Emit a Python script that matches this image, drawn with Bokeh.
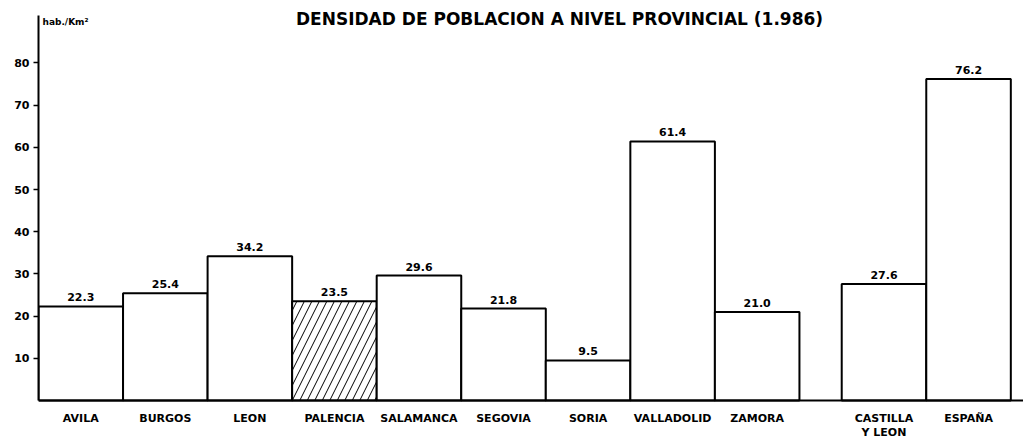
from bokeh.plotting import figure
from bokeh.models import ColumnDataSource, Range1d, FixedTicker, Label, Span
from bokeh.core.properties import value
from bokeh.embed import file_html
from bokeh.resources import INLINE

provincias = ["AVILA", "BURGOS", "LEON", "PALENCIA", "SALAMANCA", "SEGOVIA",
              "SORIA", "VALLADOLID", "ZAMORA"]
densidad_prov = [22.3, 25.4, 34.2, 23.5, 29.6, 21.8, 9.5, 61.4, 21.0]
agregados = ["CASTILLA\nY LEON", "ESPAÑA"]
densidad_agr = [27.6, 76.2]
destacada = "PALENCIA"
y_ticks = [10, 20, 30, 40, 50, 60, 70, 80]
titulo = "DENSIDAD DE POBLACION A NIVEL PROVINCIAL  (1.986)"
unidad = "hab./Km²"

FONT = "DejaVu Sans"

# positions: provinces side by side, aggregates after a half-bar gap
xs = [float(i) for i in range(len(provincias))]
xs += [len(provincias) + 0.5 + i for i in range(len(agregados))]
names = provincias + agregados
vals = densidad_prov + densidad_agr
hatch = ["/" if n == destacada else " " for n in names]
labels = ["%.1f" % v for v in vals]

src = ColumnDataSource(dict(x=xs, top=vals, base=[0] * len(xs), hatch=hatch,
                            label=labels, name=names))

p = figure(width=1023, height=440, x_range=Range1d(-0.5, 11.15), y_range=Range1d(-9.48, 94.8),
           output_backend="svg", toolbar_location=None,
           min_border_left=38, min_border_right=0, min_border_top=0, min_border_bottom=0)
p.outline_line_color = None
p.xgrid.visible = False
p.ygrid.visible = False
p.background_fill_color = "white"
p.border_fill_color = "white"
p.xaxis.visible = False

p.vbar(x="x", top="top", bottom=0, width=1.0, source=src, fill_color="white",
       line_color="black", line_width=2, hatch_pattern="hatch", hatch_color="black",
       hatch_scale=15, hatch_weight=1)

# baseline (x axis line)
p.add_layout(Span(location=0, dimension="width", line_color="black", line_width=2))

# value labels
p.text(x="x", y="top", text="label", source=src, text_align="center",
       text_baseline="bottom", y_offset=-5, text_font=value(FONT),
       text_font_size="11px", text_font_style="bold", text_color="black")

# category labels
p.text(x="x", y="base", text="name", source=src, text_align="center",
       text_baseline="top", y_offset=11, text_font=value(FONT),
       text_font_size="11px", text_font_style="bold", text_color="black",
       text_line_height=1.15)

ya = p.yaxis[0]
ya.ticker = FixedTicker(ticks=y_ticks)
ya.bounds = (0, 91.2)
ya.major_tick_out = 5
ya.major_tick_in = 0
ya.minor_tick_out = 0
ya.minor_tick_in = 0
ya.axis_line_width = 2
ya.axis_line_color = "black"
ya.major_tick_line_width = 1.5
ya.major_tick_line_color = "black"
ya.major_label_standoff = 4
ya.major_label_text_font = FONT
ya.major_label_text_font_size = "11px"
ya.major_label_text_font_style = "bold"
ya.major_label_text_color = "black"

p.add_layout(Label(x=524, y=422, x_units="screen", y_units="screen", text=titulo,
                   text_align="center", text_baseline="middle", text_font=FONT,
                   text_font_size="17px", text_font_style="bold", text_color="black"))
p.add_layout(Label(x=4, y=419, x_units="screen", y_units="screen", text=unidad,
                   text_align="left", text_baseline="middle", text_font=FONT,
                   text_font_size="9px", text_font_style="bold", text_color="black"))

open("out.html", "w").write(file_html(p, INLINE))
